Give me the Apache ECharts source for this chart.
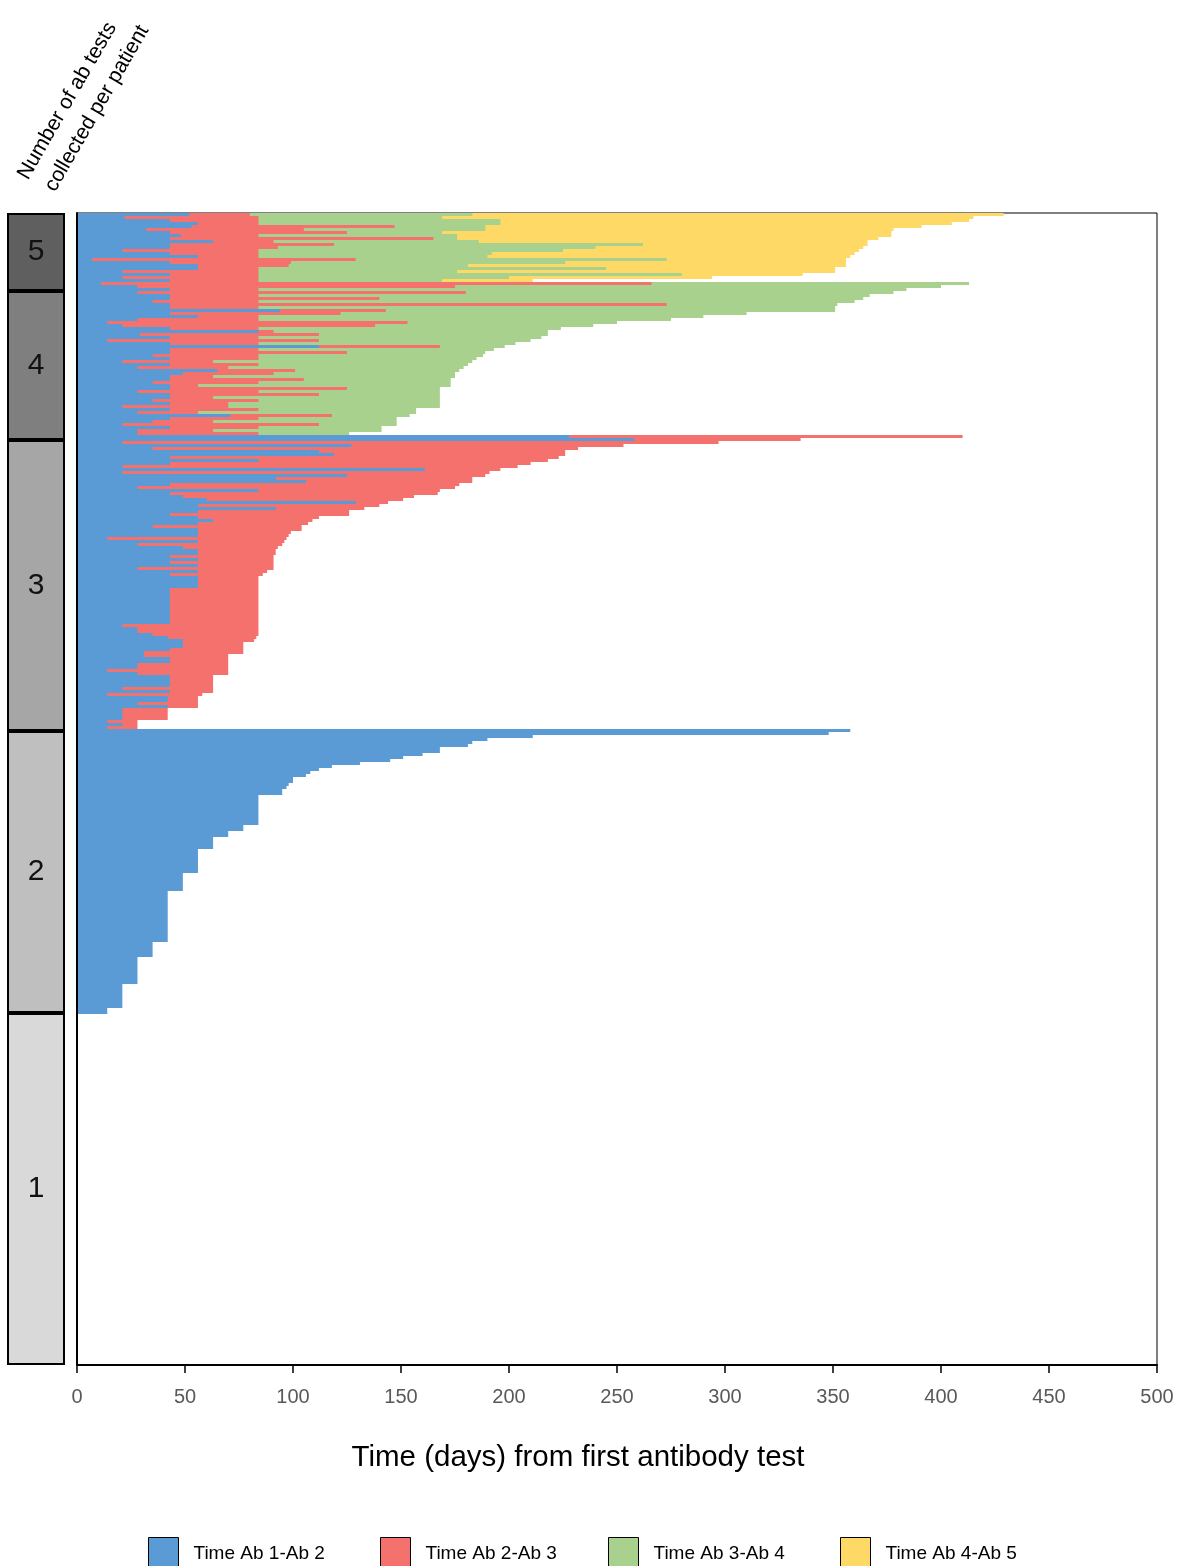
<!DOCTYPE html>
<html><head><meta charset="utf-8">
<script src="https://cdn.jsdelivr.net/npm/echarts@6/dist/echarts.min.js"></script>
<style>html,body{margin:0;padding:0;background:#fff}#c{width:1184px;height:1566px}</style>
</head><body><div id="c"></div>
<script>
// ---------- data ----------
// groups from top to bottom: number of ab tests per patient
const groupLabels = ['5', '4', '3', '2', '1'];
const groupRowCounts = [23, 51, 98, 95, 117];      // patient rows per group in the plot
const panelBands = [26, 49.7, 97, 94, 117.3];      // extent of the grey label boxes (row units)
const seriesNames = ['Time Ab 1-Ab 2', 'Time Ab 2-Ab 3', 'Time Ab 3-Ab 4', 'Time Ab 4-Ab 5'];
const xTickLabels = [0, 50, 100, 150, 200, 250, 300, 350, 400, 450, 500];

// days from first antibody test to test k, per patient row
// group 5 (5 tests)
const g5_ab2 = [52,22,43,56,53,32,43,48,43,63,43,43,21,43,56,7,43,56,56,21,43,21,43];
const g5_ab3 = [80,84,84,84,147,105,125,84,165,91,119,93,84,84,84,129,99,98,84,84,84,84,84];
const g5_ab4 = [183,169,196,196,189,189,169,176,176,186,262,240,225,192,190,273,226,181,245,176,280,200,169];
const g5_ab5 = [429,415,413,405,391,378,377,377,371,366,366,364,362,360,358,356,356,356,351,351,336,294,211];
// group 4 (4 tests)
const g4_ab2 = [11,28,43,28,43,43,35,43,43,94, 43,56,28,14,21,43,84,29,43,14, 43,112,43,43,35,43,21,43,28,65,
  49,43,43,35,43,43,28,43,43,35, 43,21,43,28,71,43,35,21,43,28, 28];
const g4_ab3 = [266,175,84,180,84,140,84,273,84,143, 122,84,84,153,138,84,91,112,84,112, 84,168,84,125,84,84,63,84,70,101,
  91,63,105,84,56,125,84,112,63,84, 70,70,84,56,118,84,63,112,84,63, 84];
const g4_ab4 = [413,400,384,378,367,364,360,352,351,351, 310,290,275,250,239,224,218,218,215,210, 203,198,193,189,188,185,183,181,179,177,
  175,175,173,173,173,168,168,168,168,168, 168,168,157,157,154,148,148,148,141,141, 126];
// group 3 (3 tests)
const g3_ab2 = [228,258,21,127,35,112,119,43,84,43, 21,161,21,125,92,106,43,28,84,43, 49,60,129,56,92,56,43,56,63,56,
  35,56,56,56,14,56,28,49,56,56, 43,56,43,56,28,56,43,56,56,56, 56,43,43,43,43,43,43,43,43,43,
  43,43,43,21,28,28,35,42,49,49, 49,43,31,31,43,43,28,28,14,28, 43,43,43,43,21,43,14,42,42,28,
  42,21,21,21,21,14,21,14];
const g3_ab3 = [410,335,297,253,232,226,226,223,218,210, 204,196,191,189,183,183,177,175,168,167, 156,151,144,140,133,126,126,112,109,107,
  104,104,99,98,97,96,95,93,92,92, 91,91,91,91,91,88,86,
  84,84,84,84,84,84,84,84,84,84,84,84,84,84,84,84,84,84,84,84,
  83,82,77,77,77,77, 70,70,70,70,70,70,70, 63,63,63,63,63,63,58, 56,56,56,56,42,42,42,42, 28,28,28];
// group 2 (2 tests)
const g2_ab2 = [358,348,211,190,183,181,168,168,160,151,145,131,118,112,108,106,100,100,98,97,95,95,
  84,84,84,84,84,84,84,84,84,84, 77,77,70,70,63,63,63,63, 56,56,56,56,56,56,56,56, 49,49,49,49,49,49,
  42,42,42,42,42,42,42,42,42,42,42,42,42,42,42,42,42, 35,35,35,35,35, 28,28,28,28,28,28,28,28,28,
  21,21,21,21,21,21,21,21, 14,14];
// group 1 (1 test): no intervals

// ---------- build ----------
const ab2 = g5_ab2.concat(g4_ab2, g3_ab2, g2_ab2);
const ab3 = g5_ab3.concat(g4_ab3, g3_ab3);
const ab4 = g5_ab4.concat(g4_ab4);
const ab5 = g5_ab5.slice();
const totalRows = groupRowCounts.reduce((a, b) => a + b, 0);
const rowCats = [];
for (let i = 0; i < totalRows; i++) rowCats.push('p' + (i + 1));

const colors = ['#5b9bd5', '#f4716e', '#a9d18e', '#ffd966'];
const greys = ['#5f5f5f', '#7f7f7f', '#a6a6a6', '#bfbfbf', '#d9d9d9'];
const FONT = 'Liberation Sans';

const mainData = [ab2, ab3, ab4, ab5];
const mainSeries = [3, 2, 1, 0].map(i => ({
  name: seriesNames[i], type: 'bar', xAxisIndex: 0, yAxisIndex: 0,
  data: mainData[i], barGap: '-100%', barCategoryGap: '0%',
  itemStyle: { color: colors[i] }, silent: true
}));

const panelSeries = groupLabels.map((g, i) => ({
  name: 'grp' + g, type: 'bar', xAxisIndex: 1, yAxisIndex: 1, stack: 'panel',
  data: [panelBands[i]], barWidth: '100%',
  itemStyle: { color: greys[i], borderColor: '#000', borderWidth: 2 },
  label: { show: true, position: 'inside', formatter: g, fontSize: 30, fontFamily: FONT, color: '#111' },
  silent: true
}));

const legendX = [148, 380, 608, 840];
const chart = echarts.init(document.getElementById('c'), null, { renderer: 'canvas' });
chart.setOption({
  animation: false,
  backgroundColor: '#fff',
  grid: [
    { left: 77, top: 213, width: 1080, height: 1152, show: true, borderColor: '#000', borderWidth: 1, backgroundColor: 'transparent' },
    { left: 7, top: 213, width: 58, height: 1152 }
  ],
  xAxis: [
    { type: 'value', gridIndex: 0, min: 0, max: 500, interval: 50, position: 'bottom',
      axisLine: { show: true, lineStyle: { color: '#000', width: 2 } },
      axisTick: { show: true, inside: false, length: 8, lineStyle: { color: '#000', width: 1.5 } },
      axisLabel: { margin: 22, fontSize: 20, color: '#595959', fontFamily: FONT,
        formatter: v => String(xTickLabels[Math.round(v / 50)]) },
      splitLine: { show: false } },
    { type: 'category', gridIndex: 1, data: ['g'], show: false }
  ],
  yAxis: [
    { type: 'category', gridIndex: 0, data: rowCats, inverse: true, z: 10,
      axisLine: { show: true, lineStyle: { color: '#000', width: 2 } },
      axisTick: { show: false }, axisLabel: { show: false }, splitLine: { show: false } },
    { type: 'value', gridIndex: 1, min: 0, max: totalRows, inverse: true, show: false }
  ],
  legend: seriesNames.map((n, i) => ({
    data: [n], left: legendX[i], top: 1537, padding: 0, itemWidth: 30, itemHeight: 32, icon: 'rect',
    selectedMode: false, itemGap: 0,
    itemStyle: { borderColor: '#000', borderWidth: 1 },
    textStyle: { fontSize: 19, color: '#000', fontFamily: FONT, padding: [0, 0, 0, 10] }
  })),
  graphic: [
    { type: 'text', x: 32, y: 183, rotation: Math.PI / 3,
      style: { text: 'Number of ab tests', font: '21px "Liberation Sans"', fill: '#000', align: 'left', verticalAlign: 'bottom' } },
    { type: 'text', x: 59, y: 195, rotation: Math.PI / 3,
      style: { text: 'collected per patient', font: '21px "Liberation Sans"', fill: '#000', align: 'left', verticalAlign: 'bottom' } },
    { type: 'text', x: 578, y: 1458,
      style: { text: 'Time (days) from first antibody test', font: '29.5px "Liberation Sans"', fill: '#000', align: 'center', verticalAlign: 'middle' } }
  ],
  series: mainSeries.concat(panelSeries)
});
</script></body></html>
